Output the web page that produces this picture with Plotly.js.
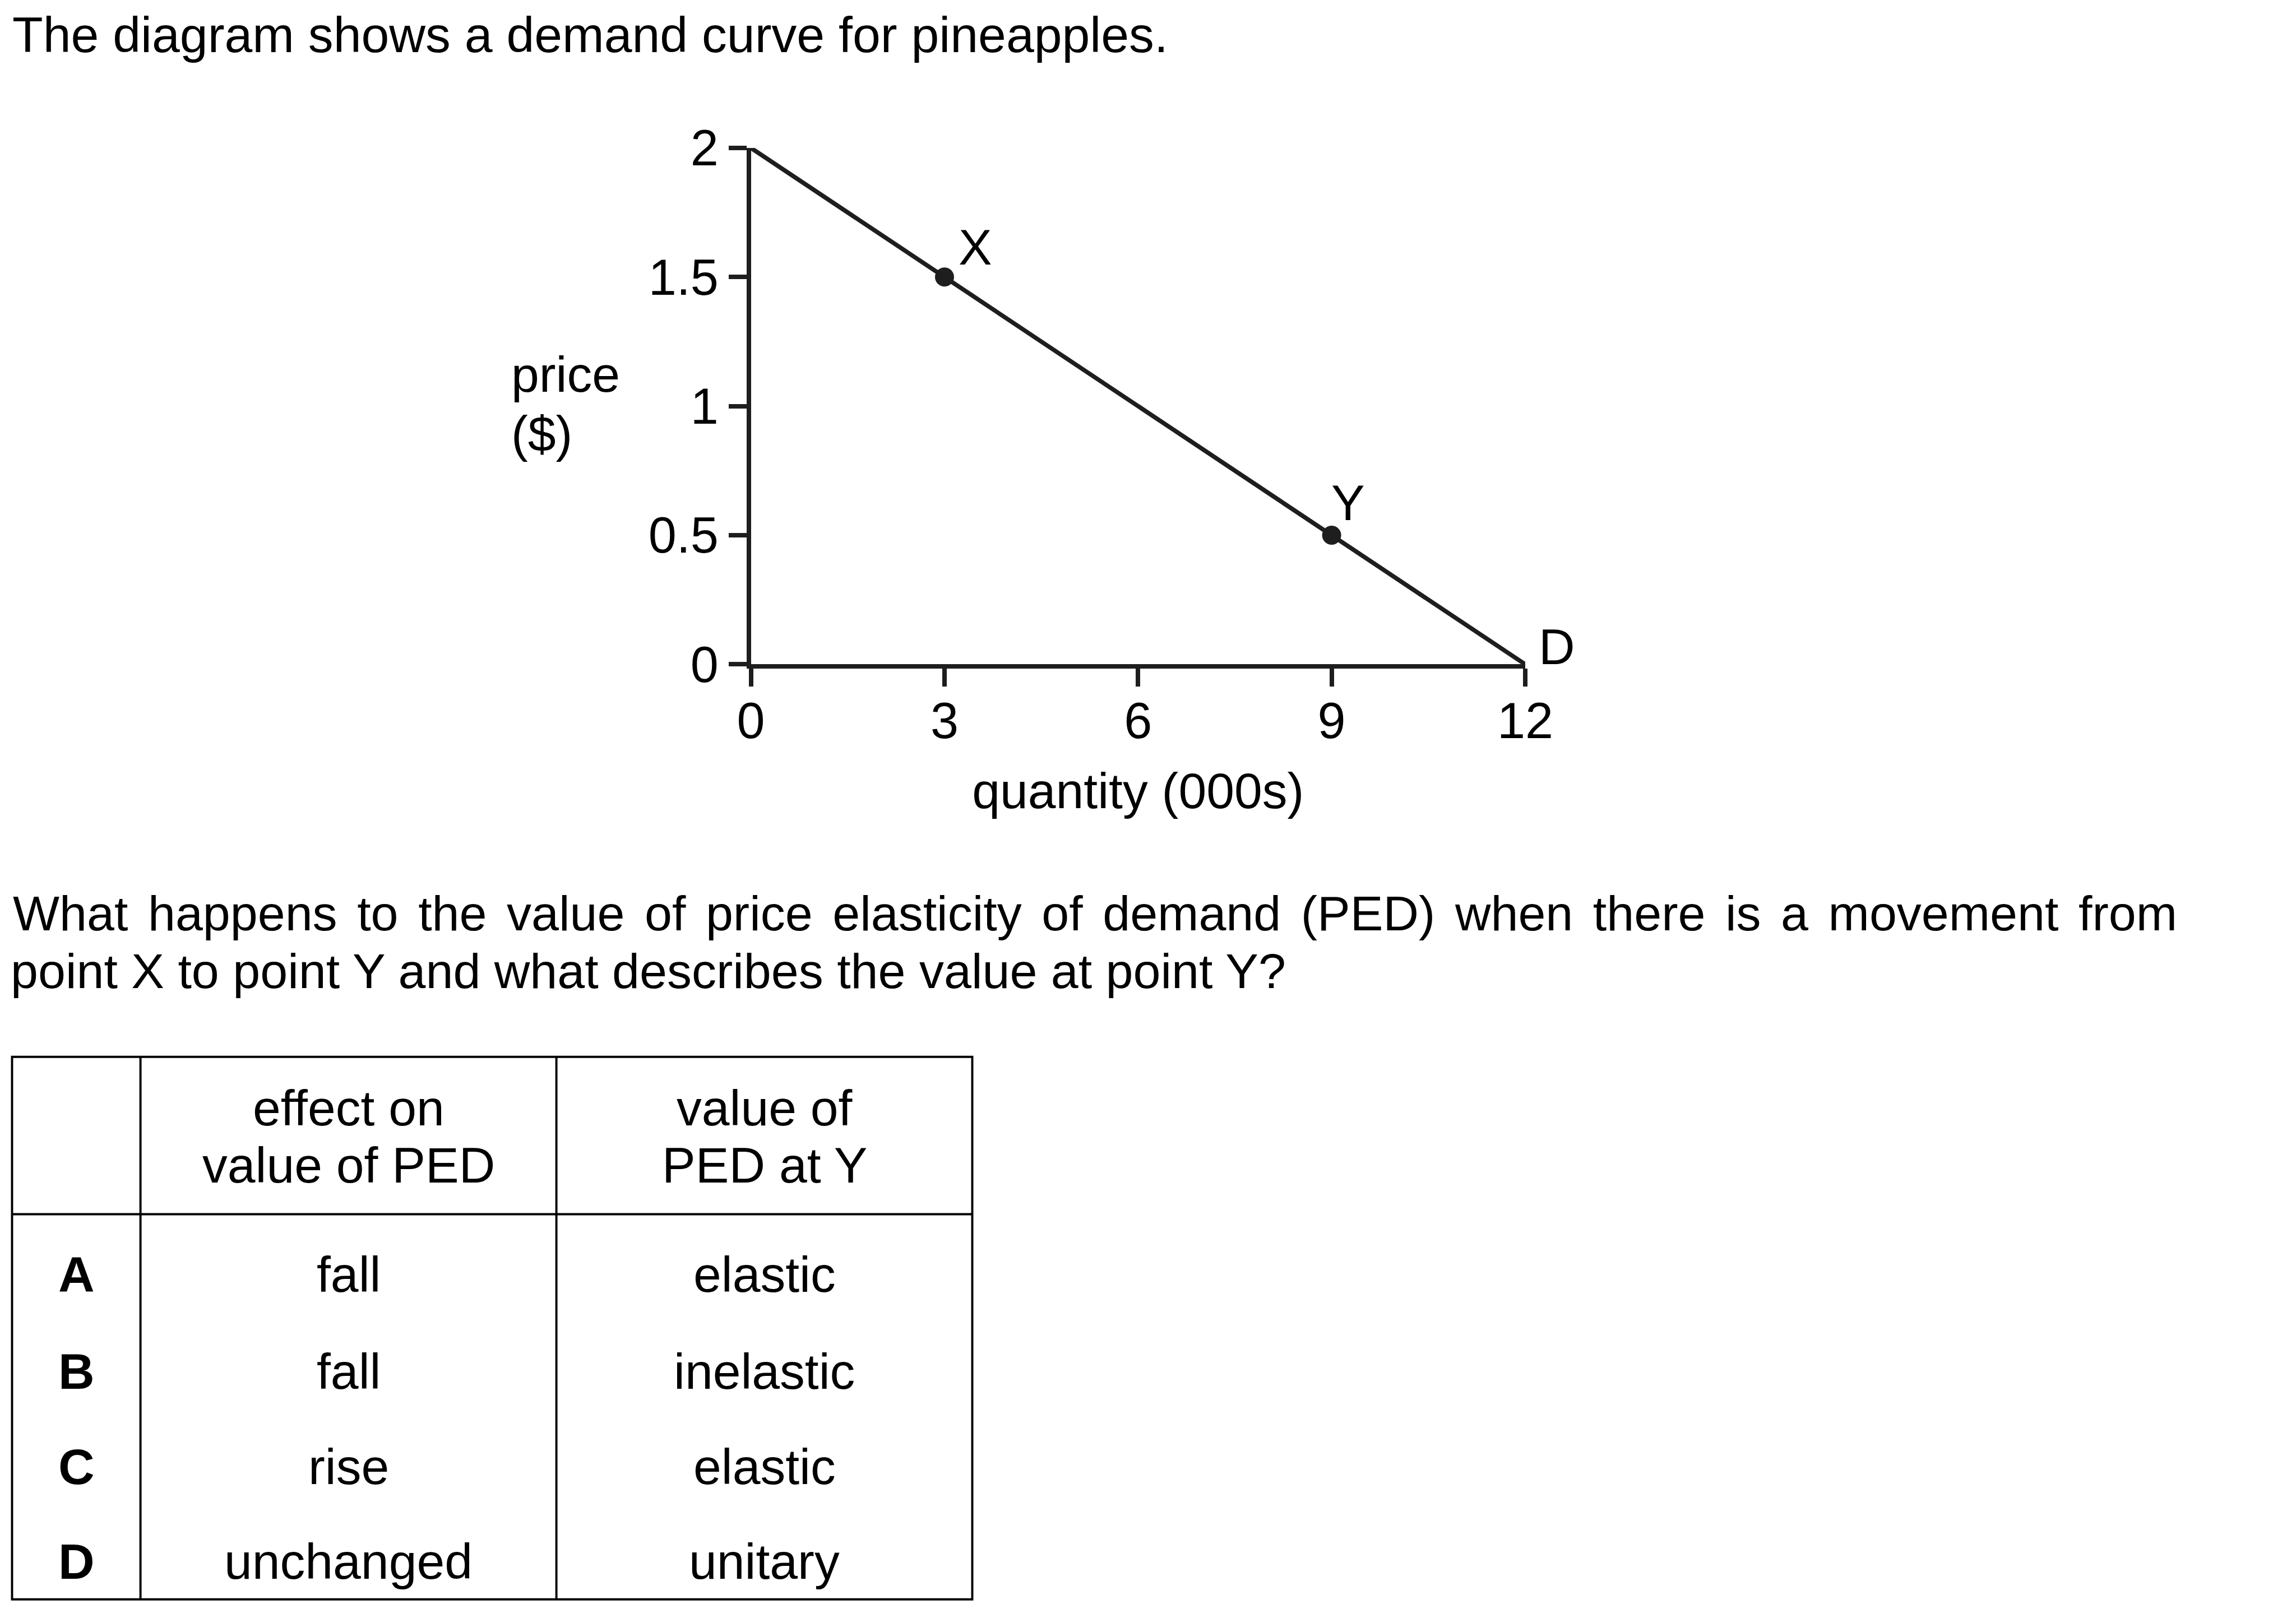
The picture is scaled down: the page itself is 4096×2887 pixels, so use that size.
<!DOCTYPE html>
<html>
<head>
<meta charset="utf-8">
<script src="https://cdn.plot.ly/plotly-3.0.1.min.js"></script>
<style>
  html, body { margin: 0; padding: 0; background: #ffffff; }
  #chart { width: 4096px; height: 2887px; }
</style>
</head>
<body>
<div id="chart"></div>
<script>
// ---------- data ----------
const titleText = 'The diagram shows a demand curve for pineapples.';
const questionLines = [
  'What happens to the value of price elasticity of demand (PED) when there is a movement from',
  'point X to point Y and what describes the value at point Y?'
];
const demandQty = [0, 12];
const demandPrice = [2, 0];
const curveName = 'D';
const pointQty = [3, 9];
const pointPrice = [1.5, 0.5];
const pointNames = ['X', 'Y'];
const qtyTicks = [0, 3, 6, 9, 12];
const qtyTickText = ['0', '3', '6', '9', '12'];
const priceTicks = [0, 0.5, 1, 1.5, 2];
const priceTickText = ['0', '0.5', '1', '1.5', '2'];
const yLabelLines = ['price', '($)'];
const xLabel = 'quantity (000s)';
const optionLetters = ['A', 'B', 'C', 'D'];
const effectHeader = ['effect on', 'value of PED'];
const valueHeader = ['value of', 'PED at Y'];
const effectValues = ['fall', 'fall', 'rise', 'unchanged'];
const pedValues = ['elastic', 'inelastic', 'elastic', 'unitary'];

// ---------- layout constants (pixels in the 4096 x 2887 page) ----------
const W = 4096, H = 2887;
const FONT = '"Liberation Sans", Arial, Helvetica, sans-serif';
const FQ = 88;                // question text size
const FT = 89.6;              // title size
const F = 89.5;               // chart and table text size
const LC = '#1e1e1e';         // line colour
const LW = 7.8;               // axis / curve width
const TW = 3.9;               // table rule width

const px = v => v / W;
const py = v => 1 - v / H;

function textAnn(text, x, baseline, xanchor, size, extra) {
  const bo = 0.3465 * size;   // baseline offset from text-box middle
  return Object.assign({
    xref: 'paper', yref: 'paper',
    x: px(x), y: py(baseline - bo),
    xanchor: xanchor, yanchor: 'middle',
    align: xanchor === 'left' ? 'left' : 'center',
    text: text, showarrow: false, borderpad: 0,
    font: { family: FONT, size: size, color: '#000000' }
  }, extra || {});
}

const annotations = [];
// title and question
annotations.push(textAnn(titleText, 21.4, 93.3, 'left', FT));
annotations.push(textAnn(questionLines[0], 22, 1660.4, 'left', FQ));
annotations.push(textAnn(questionLines[1], 17.6, 1762.8, 'left', FQ));
// y-axis label (two horizontal lines)
annotations.push(textAnn(yLabelLines[0], 911, 699, 'left', F));
annotations.push(textAnn(yLabelLines[1], 911, 805.4, 'left', F));

// point labels, anchored to the data points
const pointShift = [[55.3, 53.6], [29.5, 58.1]];
pointNames.forEach((n, i) => {
  annotations.push({
    xref: 'x', yref: 'y', x: pointQty[i], y: pointPrice[i],
    xshift: pointShift[i][0], yshift: pointShift[i][1],
    xanchor: 'center', yanchor: 'middle', text: n, showarrow: false, borderpad: 0,
    font: { family: FONT, size: F, color: '#000000' }
  });
});
// curve label D at the end of the demand line
annotations.push({
  xref: 'x', yref: 'y', x: demandQty[1], y: demandPrice[1],
  xshift: 56.4, yshift: 31.2,
  xanchor: 'center', yanchor: 'middle', text: curveName, showarrow: false, borderpad: 0,
  font: { family: FONT, size: F, color: '#000000' }
});

// ---------- table ----------
const tL = 21.5, tC1 = 250.6, tC2 = 992.6, tR = 1734.5;
const tTop = 1885.7, tHead = 2166.5, tBot = 2853.8;
const colMid = [(tL + tC1) / 2, (tC1 + tC2) / 2, (tC2 + tR) / 2];
const headBase = [2008.5, 2110];
const rowBase = [2305.4, 2478.5, 2648, 2817.3];

effectHeader.forEach((t, i) => annotations.push(textAnn(t, colMid[1], headBase[i], 'center', F)));
valueHeader.forEach((t, i) => annotations.push(textAnn(t, colMid[2], headBase[i], 'center', F)));
optionLetters.forEach((t, i) => {
  annotations.push(textAnn(t, colMid[0], rowBase[i], 'center', F,
    { font: { family: FONT, size: F, color: '#000000', weight: 'bold' } }));
  annotations.push(textAnn(effectValues[i], colMid[1], rowBase[i], 'center', F));
  annotations.push(textAnn(pedValues[i], colMid[2], rowBase[i], 'center', F));
});

function rule(x0, y0, x1, y1) {
  return { type: 'line', xref: 'paper', yref: 'paper',
           x0: px(x0), y0: py(y0), x1: px(x1), y1: py(y1),
           line: { color: '#000000', width: TW } };
}
const shapes = [
  { type: 'rect', xref: 'paper', yref: 'paper', x0: px(tL), y0: py(tTop), x1: px(tR), y1: py(tBot),
    line: { color: '#000000', width: TW }, fillcolor: 'rgba(0,0,0,0)' },
  rule(tC1, tTop, tC1, tBot),
  rule(tC2, tTop, tC2, tBot),
  rule(tL, tHead, tR, tHead)
];

// ---------- traces ----------
const data = [
  { type: 'scatter', mode: 'lines', x: demandQty, y: demandPrice, cliponaxis: false,
    line: { color: LC, width: LW }, hoverinfo: 'skip', showlegend: false },
  { type: 'scatter', mode: 'markers', x: pointQty, y: pointPrice, cliponaxis: false,
    marker: { color: LC, size: 34, line: { width: 0 } }, hoverinfo: 'skip', showlegend: false }
];

const axisCommon = {
  showline: true, linecolor: LC, linewidth: LW,
  ticks: 'outside', ticklen: 32, tickwidth: LW, tickcolor: LC,
  showgrid: false, zeroline: false, fixedrange: true,
  tickfont: { family: FONT, size: 90, color: '#000000' }
};

const layout = {
  width: W, height: H,
  margin: { l: 0, r: 0, t: 0, b: 0, pad: 0 },
  paper_bgcolor: '#ffffff', plot_bgcolor: '#ffffff',
  showlegend: false,
  xaxis: Object.assign({}, axisCommon, {
    range: [0, 12], domain: [1339.65 / W, 2720.93 / W],
    tickmode: 'array', tickvals: qtyTicks, ticktext: qtyTickText,
    ticklabelstandoff: -16,
    title: { text: xLabel, font: { family: FONT, size: F, color: '#000000' }, standoff: 47 }
  }),
  yaxis: Object.assign({}, axisCommon, {
    range: [0, 2], domain: [py(1185.31), py(263.93)],
    tickmode: 'array', tickvals: priceTicks, ticktext: priceTickText
  }),
  annotations: annotations,
  shapes: shapes
};

const gd = document.getElementById('chart');
Plotly.newPlot(gd, data, layout, { staticPlot: true, displayModeBar: false }).then(function () {
  // justify the first question line like the reference (full measure)
  const targetRight = 3884;
  gd.querySelectorAll('.annotation-text').forEach(function (n) {
    if (n.textContent === questionLines[0]) {
      const r = n.getBoundingClientRect();
      const spaces = (questionLines[0].match(/ /g) || []).length;
      const extra = (targetRight - r.right) / spaces;
      n.style.wordSpacing = extra + 'px';
    }
  });
});
</script>
</body>
</html>
